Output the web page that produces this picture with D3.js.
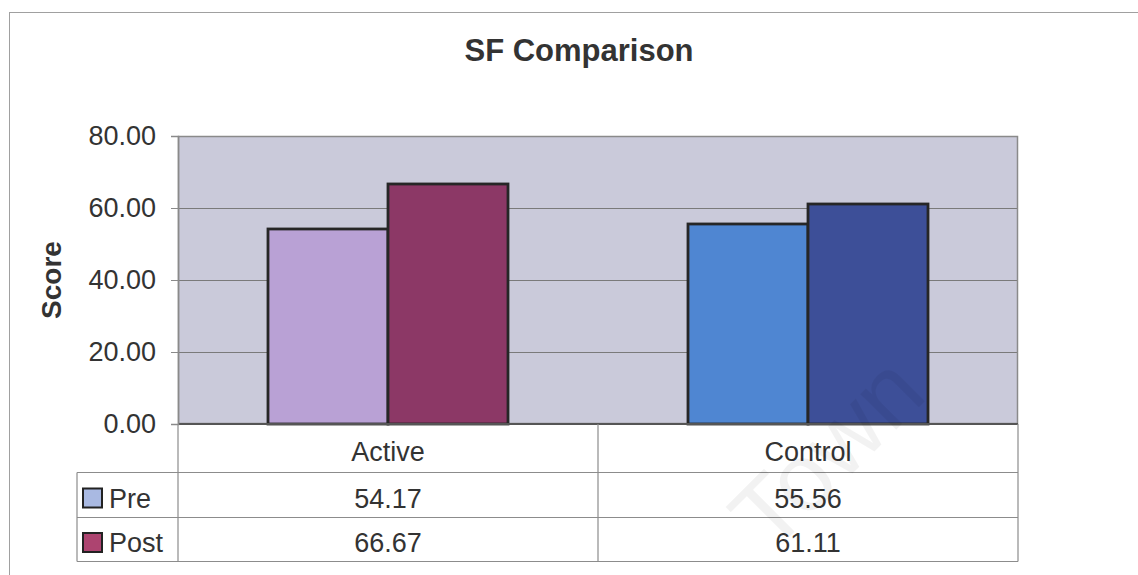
<!DOCTYPE html>
<html>
<head>
<meta charset="utf-8">
<script src="https://cdn.jsdelivr.net/npm/d3@7"></script>
<style>
  html, body { margin: 0; padding: 0; background: #fff; }
  svg { display: block; font-family: "Liberation Sans", Arial, sans-serif; }
</style>
</head>
<body>
<svg id="chart" width="1138" height="575"></svg>
<script>
// Chart data
const categories = ["Active", "Control"];
const seriesNames = ["Pre", "Post"];
const preValues = [54.17, 55.56];
const postValues = [66.67, 61.11];
const yTicks = [0, 20, 40, 60, 80];

// Each bar is coloured per point; the legend keys use the series colours
const barColors = {
  Active: ["#b9a1d5", "#8c3866"],
  Control: ["#4f86d2", "#3d4f98"]
};
const legendColors = ["#a9b9e2", "#ad4470"];

const svg = d3.select("#chart");
const textColor = "#333";
const lineGray = "#8c8c8c";

// Plot area
const plot = { left: 178, right: 1018, top: 136, bottom: 424 };

const y = d3.scaleLinear().domain([0, 80]).range([plot.bottom, plot.top]);
const x = d3.scaleBand().domain(categories).range([plot.left, plot.right]).padding(0);
const xInner = d3.scaleBand().domain(seriesNames).range([0, x.bandwidth()])
  .paddingInner(0).paddingOuter(0.75);

// Outer chart border (runs past the right and bottom edges)
svg.append("rect")
  .attr("x", 9.5).attr("y", 12.5)
  .attr("width", 1160).attr("height", 600)
  .attr("fill", "none").attr("stroke", "#a0a0a0").attr("stroke-width", 1);

// Title
svg.append("text")
  .attr("x", 579).attr("y", 61)
  .attr("text-anchor", "middle")
  .attr("font-size", 31).attr("font-weight", "bold")
  .attr("fill", textColor)
  .text("SF Comparison");

// Plot background
svg.append("rect")
  .attr("x", plot.left).attr("y", plot.top)
  .attr("width", plot.right - plot.left).attr("height", plot.bottom - plot.top)
  .attr("fill", "#cacada");

// Gridlines
svg.append("g")
  .selectAll("line")
  .data(yTicks.filter(d => d > 0 && d < 80))
  .join("line")
  .attr("x1", plot.left).attr("x2", plot.right)
  .attr("y1", d => Math.round(y(d)) + 0.5).attr("y2", d => Math.round(y(d)) + 0.5)
  .attr("stroke", "#7a7a7a").attr("stroke-width", 1);

// Plot border
svg.append("rect")
  .attr("x", plot.left + 0.5).attr("y", plot.top + 0.5)
  .attr("width", plot.right - plot.left - 1).attr("height", plot.bottom - plot.top - 1)
  .attr("fill", "none").attr("stroke", "#8a8a8a").attr("stroke-width", 1.5);

// Bars
const barData = [];
categories.forEach((c, i) => {
  [preValues[i], postValues[i]].forEach((v, j) => {
    barData.push({ category: c, series: seriesNames[j], value: v, color: barColors[c][j] });
  });
});

svg.append("g")
  .selectAll("rect")
  .data(barData)
  .join("rect")
  .attr("x", d => x(d.category) + xInner(d.series))
  .attr("y", d => y(d.value))
  .attr("width", xInner.bandwidth())
  .attr("height", d => y(0) - y(d.value))
  .attr("fill", d => d.color)
  .attr("stroke", "#262626").attr("stroke-width", 2.8);

// Category axis baseline
svg.append("line")
  .attr("x1", plot.left).attr("x2", plot.right)
  .attr("y1", plot.bottom).attr("y2", plot.bottom)
  .attr("stroke", "#555").attr("stroke-width", 2);

// Y axis
const yAxis = svg.append("g")
  .attr("transform", `translate(${plot.left},0)`)
  .call(d3.axisLeft(y).tickValues(yTicks).tickSize(7).tickPadding(15)
    .tickFormat(d3.format(".2f")));
yAxis.select(".domain").attr("stroke", "#8a8a8a").attr("stroke-width", 1.5);
yAxis.selectAll(".tick line").attr("stroke", "#8a8a8a");
yAxis.selectAll(".tick text")
  .attr("font-size", 27).attr("fill", textColor)
  .attr("font-family", "'Liberation Sans', Arial, sans-serif");

// Y axis title
svg.append("text")
  .attr("transform", `translate(61,${(plot.top + plot.bottom) / 2}) rotate(-90)`)
  .attr("text-anchor", "middle")
  .attr("font-size", 28).attr("font-weight", "bold")
  .attr("fill", textColor)
  .text("Score");

// Data table
const tableLeft = 77;
const rowEdges = [plot.bottom, 472.5, 517.5, 561.5];
const table = svg.append("g").attr("stroke", lineGray).attr("stroke-width", 1.2);

// horizontal rules
rowEdges.slice(1).forEach(yy => {
  table.append("line")
    .attr("x1", tableLeft).attr("x2", plot.right)
    .attr("y1", yy).attr("y2", yy);
});
// vertical rules
const colEdges = [plot.left, ...categories.map(c => x(c) + x.bandwidth())];
colEdges.forEach(xx => {
  table.append("line")
    .attr("x1", xx).attr("x2", xx)
    .attr("y1", plot.bottom).attr("y2", rowEdges[3]);
});
table.append("line")
  .attr("x1", tableLeft).attr("x2", tableLeft)
  .attr("y1", rowEdges[1]).attr("y2", rowEdges[3]);

const rowMid = i => (rowEdges[i] + rowEdges[i + 1]) / 2;
const baselineOffset = 12.5;

// category header row
svg.append("g")
  .selectAll("text")
  .data(categories)
  .join("text")
  .attr("x", d => x(d) + x.bandwidth() / 2)
  .attr("y", rowMid(0) + baselineOffset)
  .attr("text-anchor", "middle")
  .attr("font-size", 27).attr("fill", textColor)
  .text(d => d);

// value rows with legend keys
[preValues, postValues].forEach((vals, r) => {
  const base = rowMid(r + 1) + baselineOffset;
  const g = svg.append("g");
  g.append("rect")
    .attr("x", 83).attr("y", base - 19)
    .attr("width", 19).attr("height", 19)
    .attr("fill", legendColors[r])
    .attr("stroke", "#222").attr("stroke-width", 2);
  g.append("text")
    .attr("x", 109).attr("y", base)
    .attr("font-size", 27).attr("fill", textColor)
    .text(seriesNames[r]);
  g.selectAll("text.val")
    .data(vals)
    .join("text")
    .attr("class", "val")
    .attr("x", (d, i) => x(categories[i]) + x.bandwidth() / 2)
    .attr("y", base)
    .attr("text-anchor", "middle")
    .attr("font-size", 27).attr("fill", textColor)
    .text(d => d.toFixed(2));
});

// faint diagonal watermark
svg.append("text")
  .attr("transform", "translate(832,458) rotate(-45)")
  .attr("text-anchor", "middle")
  .attr("dominant-baseline", "middle")
  .attr("font-size", 96)
  .attr("fill", "#000").attr("fill-opacity", 0.05)
  .text("Town");
</script>
</body>
</html>
